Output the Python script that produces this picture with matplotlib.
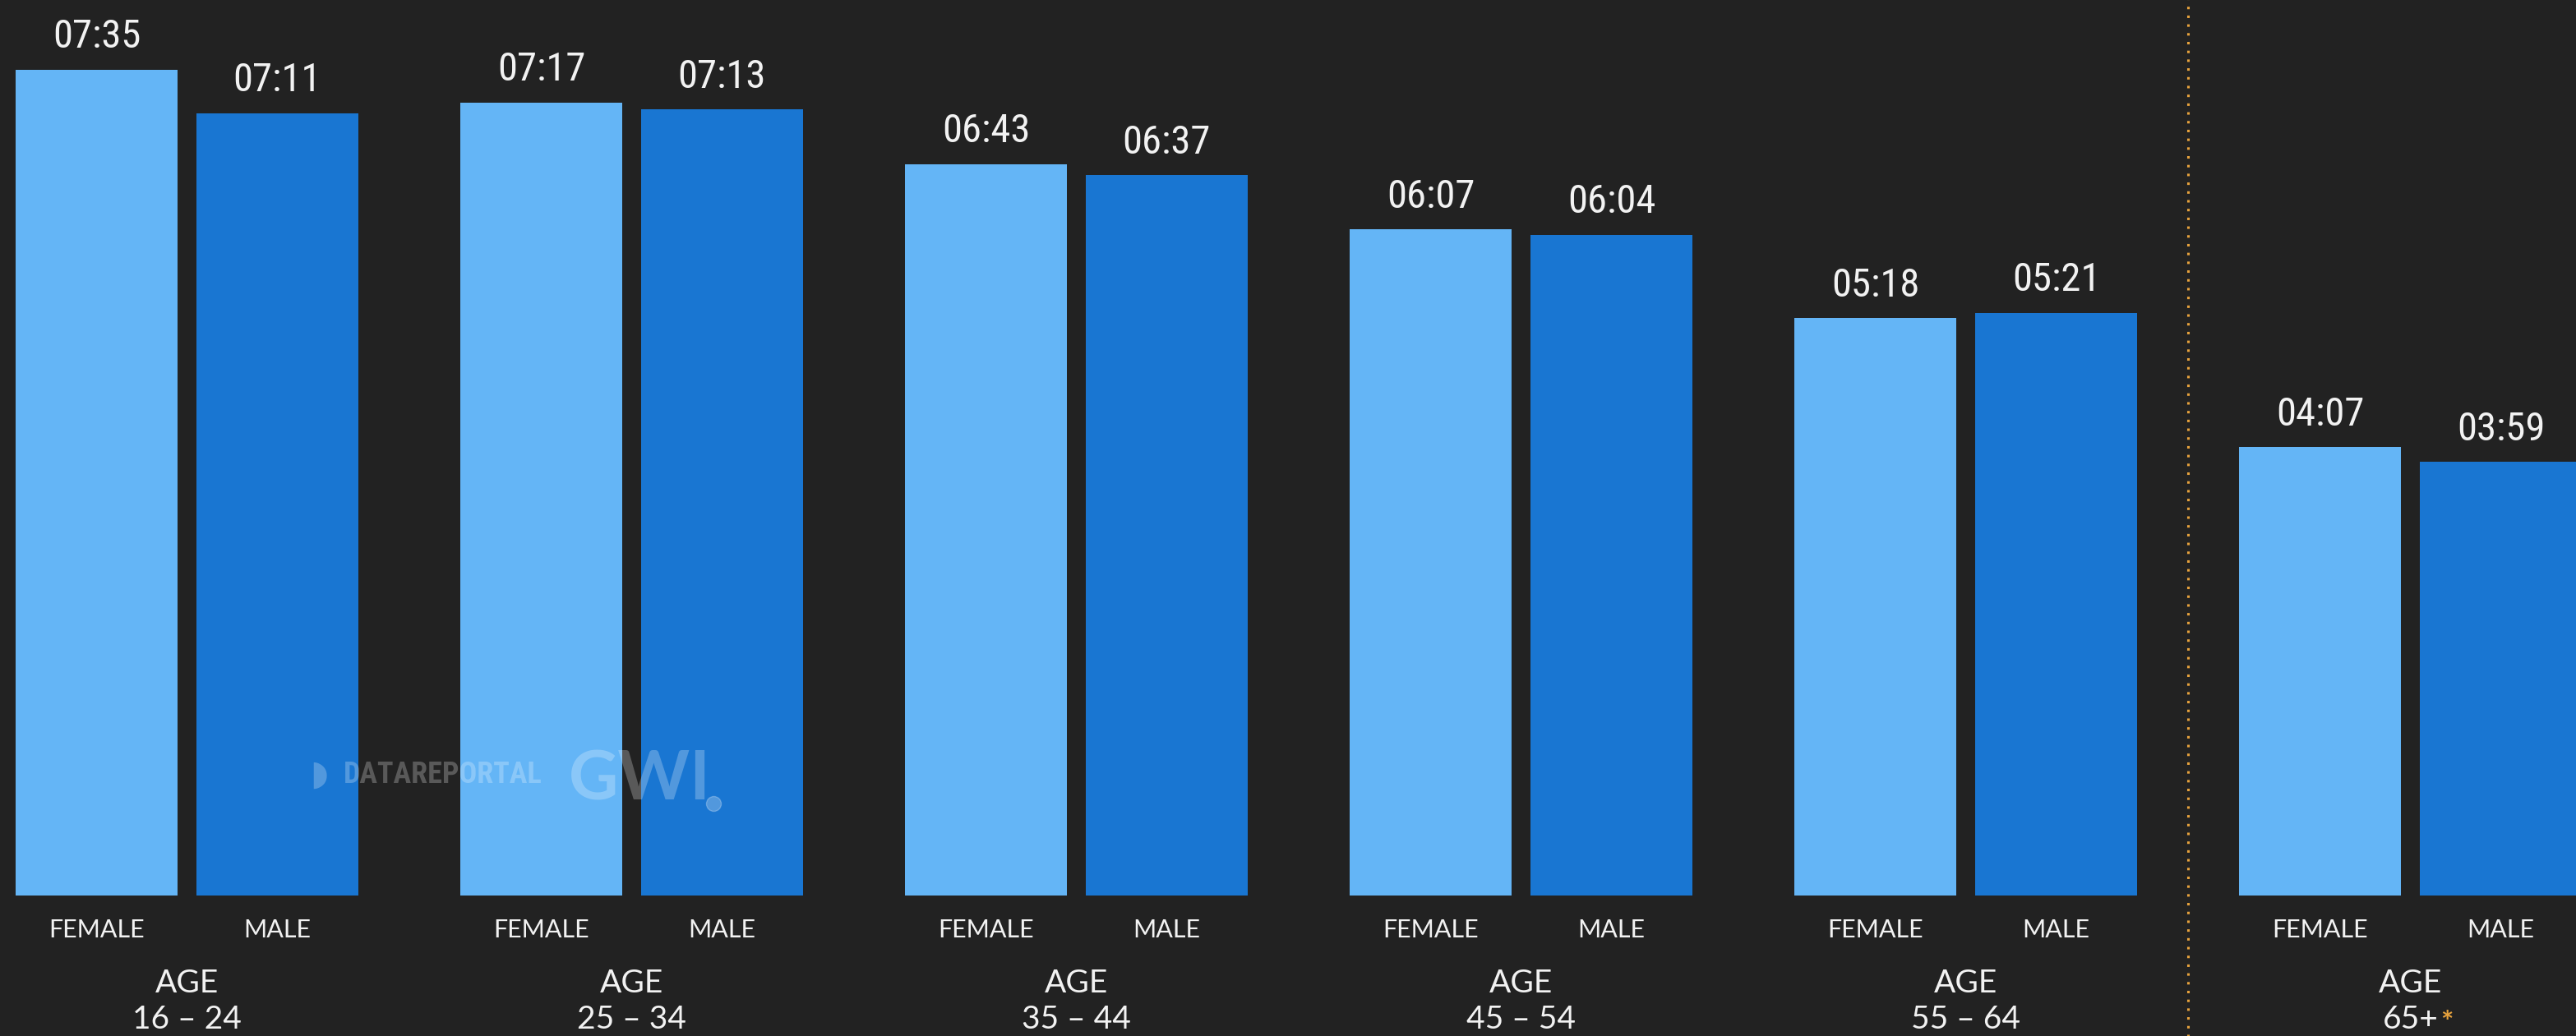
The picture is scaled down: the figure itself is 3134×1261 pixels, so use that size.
import matplotlib.pyplot as plt
from matplotlib.lines import Line2D

# average daily time online (minutes) by age and gender
age_groups = ['16 – 24', '25 – 34', '35 – 44', '45 – 54', '55 – 64', '65+']
female_minutes = [455, 437, 403, 367, 318, 247]
male_minutes = [431, 433, 397, 364, 321, 239]

BG = '#222222'
FEMALE_COLOR = '#64B5F6'
MALE_COLOR = '#1976D2'
TEXT = '#F2F2F2'
ORANGE = '#E8A33D'
NUM_FONT = ['Roboto Condensed', 'Roboto', 'DejaVu Sans']
LBL_FONT = ['Lato', 'DejaVu Sans']


def fmt(m):
    return f"{m // 60:02d}:{m % 60:02d}"


fig = plt.figure(figsize=(31.34, 12.61), dpi=100, facecolor=BG)
ax = fig.add_axes([0, 171 / 1261, 1, 1090 / 1261])
ax.set_facecolor(BG)
ax.set_xlim(-0.4205, 5.372)
ax.set_ylim(0, 493.4)
ax.axis('off')

width = 0.364
off = 0.203
xs = list(range(len(age_groups)))

fbars = ax.bar([x - off for x in xs], female_minutes, width, color=FEMALE_COLOR)
mbars = ax.bar([x + off for x in xs], male_minutes, width, color=MALE_COLOR)

for bars, vals, name in [(fbars, female_minutes, 'FEMALE'), (mbars, male_minutes, 'MALE')]:
    for b, v in zip(bars, vals):
        cx = b.get_x() + b.get_width() / 2
        ax.annotate(fmt(v), xy=(cx, v), xytext=(0, 19), textcoords='offset points',
                    ha='center', va='baseline', color=TEXT, fontsize=35,
                    family=NUM_FONT)
        ax.annotate(name, xy=(cx, 0), xytext=(0, -37), textcoords='offset points',
                    ha='center', va='baseline', color=TEXT, fontsize=22,
                    family=LBL_FONT, annotation_clip=False)

for x, grp in zip(xs, age_groups):
    ax.annotate('AGE', xy=(x, 0), xytext=(0, -85), textcoords='offset points',
                ha='center', va='baseline', color=TEXT, fontsize=28,
                family=LBL_FONT, annotation_clip=False)
    t = ax.annotate(grp, xy=(x, 0), xytext=(0, -117), textcoords='offset points',
                    ha='center', va='baseline', color=TEXT, fontsize=28,
                    family=LBL_FONT, annotation_clip=False)
    if grp == '65+':
        ax.annotate('*', xy=(1, 1), xycoords=t, xytext=(2, -4), textcoords='offset points',
                    ha='left', va='top', color=ORANGE, fontsize=26,
                    family=LBL_FONT, fontweight='bold', annotation_clip=False)

# separator before the 65+ group
ax.axvline(4.5, ymin=-0.16, ymax=1.0, color=ORANGE, lw=2.2,
           linestyle=(0, (1, 2.5)), clip_on=False)

# watermark
fig.text(377 / 3134, 1 - 943 / 1261, '\u25D7', color='white', alpha=0.25,
         fontsize=30, ha='left', va='center', family='DejaVu Sans')
fig.text(418 / 3134, 1 - 943 / 1261, 'DATAREPORTAL', color='white', alpha=0.25,
         fontsize=26, fontweight='bold', ha='left', va='center', family=NUM_FONT)
fig.text(692 / 3134, 1 - 950 / 1261, 'GWI', color='white', alpha=0.25,
         fontsize=60, fontweight='bold', ha='left', va='center', family=LBL_FONT)
fig.add_artist(Line2D([868 / 3134], [1 - 978 / 1261], marker='o', markersize=13,
                      color='white', alpha=0.25, transform=fig.transFigure))

fig.savefig('out.png', dpi=100, facecolor=BG)
